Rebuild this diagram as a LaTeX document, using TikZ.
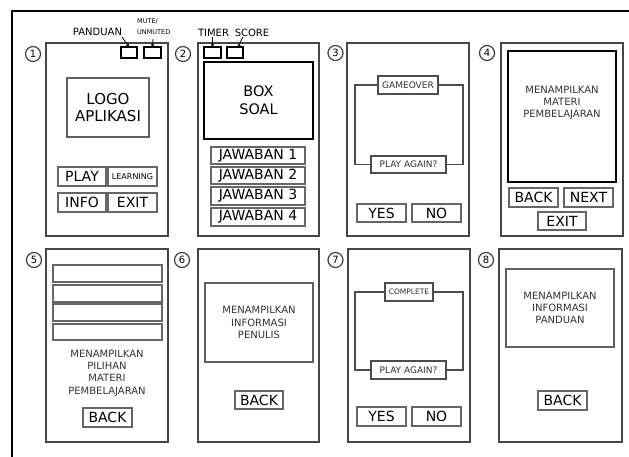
\documentclass[tikz,border=0pt]{standalone}
\usepackage{fontspec}
\setmainfont{DejaVu Sans}
\usetikzlibrary{arrows.meta}
\newcommand{\uibox}[7][]{\node[rectangle, inner sep=0pt, outer sep=0pt, align=center,
  minimum width={((#5)-(#3))*1pt}, minimum height={((#6)-(#4))*1pt}, #1] (#2)
  at ({((#3)+(#5))/2},{((#4)+(#6))/2}) {#7};}
\tikzset{
  panel/.style={draw=black!72, line width=1.5pt},
  btn/.style={draw=black!60, line width=1.3pt, font=\fontsize{14}{16}\selectfont},
  blk/.style={draw=black, line width=1.5pt},
  graybox/.style={draw=black!62, line width=1.3pt},
  dlg/.style={draw=black!70, line width=1.3pt, font=\fontsize{9}{11}\selectfont, text=black!80},
  dline/.style={draw=black!70, line width=1.3pt},
  info/.style={font=\fontsize{10}{12.3}\selectfont, text=black!80, align=center},
  lbl/.style={font=\fontsize{10}{12}\selectfont, inner sep=0pt},
  num/.style={circle, draw=black!75, line width=1.2pt, minimum size=15pt, inner sep=0pt,
    font=\fontsize{10}{11}\selectfont},
  arr/.style={line width=0.8pt, -{Stealth[length=3pt,width=3.5pt]}},
}
\begin{document}
\begin{tikzpicture}[x=1pt,y=-1pt]
\useasboundingbox (0,0) rectangle (629,457);
% outer frame
\coordinate (fbl) at (12,458);
\coordinate (ftl) at (12,11);
\coordinate (ftr) at (630,11);
\draw[line width=1.5pt] (fbl) -- (ftl) -- (ftr);

% panels
\uibox[panel]{p1}{46}{43}{168}{236}{}
\uibox[panel]{p2}{198}{43}{319}{236}{}
\uibox[panel]{p3}{347}{43}{469}{236}{}
\uibox[panel]{p4}{501}{43}{623}{236}{}
\uibox[panel]{p5}{46}{249}{168}{442}{}
\uibox[panel]{p6}{198}{249}{319}{442}{}
\uibox[panel]{p7}{348}{249}{470}{442}{}
\uibox[panel]{p8}{499}{249}{622}{442}{}

% numbers
\node[num] (n1) at (33,54) {1};
\node[num] (n2) at (183,54) {2};
\node[num] (n3) at (335.5,53) {3};
\node[num] (n4) at (487,53) {4};
\node[num] (n5) at (34,260) {5};
\node[num] (n6) at (182,260) {6};
\node[num] (n7) at (335.5,260) {7};
\node[num] (n8) at (486,260) {8};

% panel 1
\uibox[blk]{b1p}{121}{47}{137}{58}{}
\uibox[blk]{b1m}{144}{47}{161}{58}{}
\node[lbl] (lpand) at (97.5,32) {PANDUAN};
\node[inner sep=0pt, anchor=west, align=left, font=\fontsize{6.5}{11}\selectfont] (lmute) at (137,27) {MUTE/\\UNMUTED};
\coordinate (apand) at (122,37);
\coordinate (amute) at (153,39);
\draw[arr] (apand) -- (b1p.north);
\draw[arr] (amute) -- (b1m.north);
\uibox[graybox, font=\fontsize{15}{17}\selectfont]{logo}{67}{78}{149}{137}{LOGO\\APLIKASI}
\uibox[btn]{play}{58}{167}{106}{186}{PLAY}
\uibox[btn, font=\fontsize{8}{9}\selectfont]{learn}{108}{167}{157}{186}{LEARNING}
\uibox[btn]{info1}{58}{193}{106}{212}{INFO}
\uibox[btn]{exit1}{108}{193}{157}{212}{EXIT}

% panel 2
\uibox[blk]{b2t}{204}{47}{221}{58}{}
\uibox[blk]{b2s}{227}{47}{243}{58}{}
\node[lbl] (ltimer) at (213.5,33) {TIMER};
\node[lbl] (lscore) at (252,33) {SCORE};
\coordinate (atimer) at (212.5,37);
\coordinate (ascore) at (243,37);
\draw[arr] (atimer) -- (b2t.north);
\draw[arr] (ascore) -- ([xshift=3pt]b2s.north);
\uibox[blk, font=\fontsize{14.5}{18}\selectfont]{soal}{204}{62}{313}{139}{BOX\\SOAL}
\uibox[btn]{j1}{211}{147}{305}{164}{JAWABAN 1}
\uibox[btn]{j2}{211}{167}{305}{184}{JAWABAN 2}
\uibox[btn]{j3}{211}{187}{305}{205}{JAWABAN 3}
\uibox[btn]{j4}{211}{208}{305}{226}{JAWABAN 4}

% panel 3
\coordinate (d3l) at (355,0);
\coordinate (d3r) at (463,0);
\uibox[dlg, fill=white]{go3}{378}{76}{438}{94}{GAMEOVER}
\uibox[dlg, fill=white]{pa3}{371}{156}{446}{173}{PLAY AGAIN?}
\draw[dline] (go3.west) -- (go3.west -| d3l) -- (pa3.west -| d3l) -- (pa3.west);
\draw[dline] (go3.east) -- (go3.east -| d3r) -- (pa3.east -| d3r) -- (pa3.east);
\uibox[btn]{yes3}{357}{204}{406}{222}{YES}
\uibox[btn]{no3}{412}{204}{461}{222}{NO}

% panel 4
\uibox[blk]{mat4}{508}{51}{616}{182}{}
\node[info] (t4) at (562,103) {MENAMPILKAN\\MATERI\\PEMBELAJARAN};
\uibox[btn]{back4}{509}{188}{558}{207}{BACK}
\uibox[btn]{next4}{564}{188}{613}{207}{NEXT}
\uibox[btn]{exit4}{538}{212}{586}{230}{EXIT}

% panel 5
\uibox[btn]{m1}{53}{265}{162}{282}{}
\uibox[btn]{m2}{53}{285}{162}{302}{}
\uibox[btn]{m3}{53}{304}{162}{321}{}
\uibox[btn]{m4}{53}{324}{162}{340}{}
\node[info] (t5) at (107,373) {MENAMPILKAN\\PILIHAN\\MATERI\\PEMBELAJARAN};
\uibox[btn]{back5}{83}{408}{132}{427}{BACK}

% panel 6
\uibox[graybox, info]{inf6}{205}{283}{313}{362}{MENAMPILKAN\\INFORMASI\\PENULIS}
\uibox[btn]{back6}{235}{391}{283}{409}{BACK}

% panel 7
\coordinate (d7l) at (355,0);
\coordinate (d7r) at (463,0);
\uibox[dlg, fill=white, font=\fontsize{7.5}{9}\selectfont]{co7}{385}{283}{433}{301}{COMPLETE}
\uibox[dlg, fill=white]{pa7}{371}{361}{446}{379}{PLAY AGAIN?}
\draw[dline] (co7.west) -- (co7.west -| d7l) -- (pa7.west -| d7l) -- (pa7.west);
\draw[dline] (co7.east) -- (co7.east -| d7r) -- (pa7.east -| d7r) -- (pa7.east);
\uibox[btn]{yes7}{357}{407}{406}{426}{YES}
\uibox[btn]{no7}{412}{407}{461}{426}{NO}

% panel 8
\uibox[graybox, info]{inf8}{506}{269}{614}{347}{MENAMPILKAN\\INFORMASI\\PANDUAN}
\uibox[btn]{back8}{538}{391}{587}{410}{BACK}
\end{tikzpicture}
\end{document}
